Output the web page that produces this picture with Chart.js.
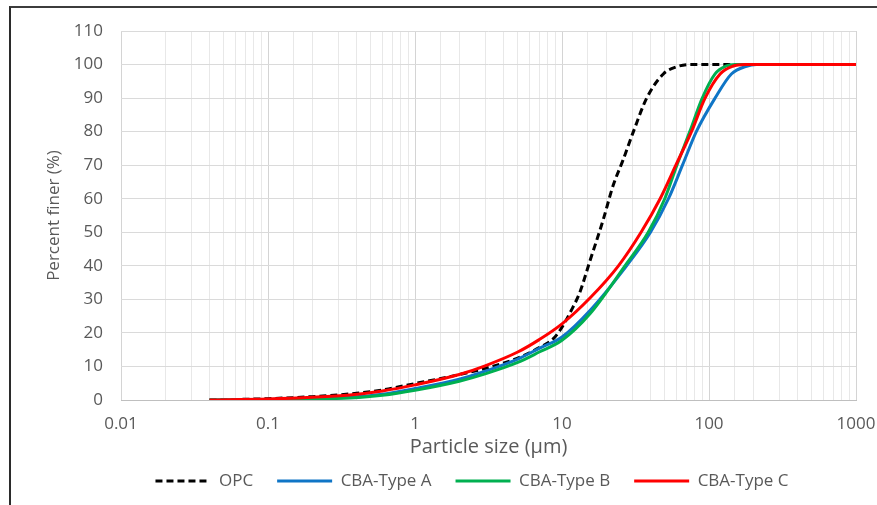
<!DOCTYPE html>
<html lang="en">
<head>
<meta charset="UTF-8">
<title>Particle size distribution</title>
<script src="https://cdn.jsdelivr.net/npm/chart.js"></script>
<style>
    body { margin: 0; background: #fff; }
    .quadro { position: relative; width: 877px; height: 505px; overflow: hidden; }
    .moldura { position: absolute; left: 9px; top: 6px; right: -5px; bottom: -5px; border-left: 2px solid #2b2b2b; border-top: 2px solid #3c3c3c; }
    #grafico { position: absolute; left: 0; top: 0; }
</style>
</head>
<body>
<div class="quadro">
    <div class="moldura"></div>
    <canvas id="grafico" width="877" height="505"></canvas>
</div>
<script>
    // OPC (dashed black)
    const opcSize  = [0.04, 0.1, 0.2, 0.4, 0.6, 1, 1.5, 2, 3, 5, 7, 8.7, 10, 11.4, 13.2, 15.5, 19, 22.3, 26, 30.6, 37.7, 48.9, 60, 74, 100, 1000];
    const opcFiner = [0, 0.4, 1.0, 2.0, 3.0, 4.9, 6.4, 7.6, 9.4, 12.5, 15.6, 18.2, 21.7, 26.2, 32, 41.5, 53.5, 64, 71.5, 80, 90, 97.2, 99.3, 100, 100, 100];

    // CBA-Type A (blue)
    const typeASize  = [0.04, 0.1, 0.2, 0.36, 0.6, 1, 2, 3, 5, 7, 10, 15.5, 27.5, 40, 53, 66, 82, 110, 142, 180, 210, 1000];
    const typeAFiner = [0, 0.15, 0.4, 0.8, 1.7, 3.4, 6.2, 8.6, 12.2, 15.4, 18.8, 26.7, 40, 50, 60, 70, 80, 90, 97.2, 99.5, 100, 100];

    // CBA-Type B (green)
    const typeBSize  = [0.04, 0.1, 0.2, 0.36, 0.6, 1, 2, 3, 5, 7, 10, 15.5, 26.8, 38.6, 50, 60.5, 74, 90, 110, 130, 150, 1000];
    const typeBFiner = [0, 0.1, 0.3, 0.6, 1.4, 2.9, 5.6, 7.8, 11.2, 14.3, 17.8, 25.7, 40, 50, 60, 70, 80, 90, 97.2, 99.5, 100, 100];

    // CBA-Type C (red)
    const typeCSize  = [0.04, 0.1, 0.2, 0.36, 0.6, 1, 2, 3, 5, 7, 10, 15.5, 24.2, 34.5, 46.5, 59.5, 76, 94, 119, 145, 175, 1000];
    const typeCFiner = [0, 0.3, 0.8, 1.5, 2.7, 4.5, 7.6, 10.2, 14.3, 18, 22.7, 30.4, 40, 50, 60, 70, 80, 90, 97.2, 99.5, 100, 100];

    const xTicks = [0.01, 0.1, 1, 10, 100, 1000];

    const cinza = '#595959';
    const fonte = { family: "'Open Sans', sans-serif", size: 17 };

    function pontos(sizes, finer) {
        return sizes.map((s, i) => ({ x: s, y: finer[i] }));
    }

    function ehDecada(v) {
        return xTicks.some(t => Math.abs(Math.log10(v) - Math.log10(t)) < 1e-6);
    }

    // move a legenda para a posicao da figura original
    const posLegenda = {
        id: 'posLegenda',
        afterLayout(chart) {
            const lg = chart.legend;
            const dx = 472 - (lg.left + lg.right) / 2;
            lg.left += dx;
            lg.right += dx;
            lg.top = 481 - 24 - 8.5;
            lg.bottom = lg.top + 70;
        }
    };

    const data = {
        datasets: [
            {
                label: 'OPC',
                data: pontos(opcSize, opcFiner),
                borderColor: '#000000',
                backgroundColor: '#000000',
                borderDash: [7, 4],
                borderWidth: 3,
                order: 4
            },
            {
                label: 'CBA-Type A',
                data: pontos(typeASize, typeAFiner),
                borderColor: '#0f75c6',
                backgroundColor: '#0f75c6',
                borderWidth: 3,
                order: 3
            },
            {
                label: 'CBA-Type B',
                data: pontos(typeBSize, typeBFiner),
                borderColor: '#00b050',
                backgroundColor: '#00b050',
                borderWidth: 3,
                order: 2
            },
            {
                label: 'CBA-Type C',
                data: pontos(typeCSize, typeCFiner),
                borderColor: '#ff0000',
                backgroundColor: '#ff0000',
                borderWidth: 3,
                order: 1
            }
        ]
    };

    const config = {
        type: 'line',
        data: data,
        plugins: [posLegenda],
        options: {
            responsive: false,
            animation: false,
            layout: { padding: { left: 43, right: 21, top: 31, bottom: 22 } },
            elements: {
                point: { radius: 0 },
                line: { cubicInterpolationMode: 'monotone', fill: false }
            },
            plugins: {
                tooltip: { enabled: false },
                legend: {
                    position: 'bottom',
                    maxHeight: 20,
                    labels: {
                        usePointStyle: true,
                        pointStyle: 'line',
                        pointStyleWidth: 55,
                        padding: 24,
                        color: cinza,
                        font: fonte,
                        sort: (a, b) => a.datasetIndex - b.datasetIndex,
                        generateLabels: chart => Chart.defaults.plugins.legend.labels.generateLabels(chart).map(item => {
                            const ds = chart.data.datasets[item.datasetIndex];
                            item.lineWidth = ds.borderWidth;
                            item.lineDash = ds.borderDash || [];
                            item.strokeStyle = ds.borderColor;
                            return item;
                        })
                    }
                }
            },
            scales: {
                x: {
                    type: 'logarithmic',
                    min: 0.01,
                    max: 1000,
                    grid: {
                        color: ctx => ehDecada(ctx.tick.value) ? '#d4d4d4' : '#e8e8e8',
                        drawTicks: true,
                        tickLength: 14,
                        tickColor: 'rgba(0,0,0,0)'
                    },
                    border: { color: '#bfbfbf' },
                    ticks: {
                        autoSkip: false,
                        maxRotation: 0,
                        padding: 0,
                        color: cinza,
                        font: fonte,
                        callback: v => ehDecada(v) ? String(Number(v.toPrecision(1))) : ''
                    },
                    title: {
                        display: true,
                        text: 'Particle size (µm)',
                        color: cinza,
                        font: { family: fonte.family, size: 20 },
                        padding: { top: 3, bottom: 4 }
                    },
                    afterFit: s => { s.height = 63; }
                },
                y: {
                    min: 0,
                    max: 110,
                    grid: { color: '#dadada', drawTicks: false },
                    border: { display: false },
                    ticks: { stepSize: 10, padding: 18, color: cinza, font: fonte },
                    title: {
                        display: true,
                        text: 'Percent finer (%)',
                        color: cinza,
                        font: fonte,
                        padding: { top: 1, bottom: 8 }
                    },
                    afterFit: s => { s.width = 78; }
                }
            }
        }
    };

    const grafico = new Chart(document.getElementById('grafico'), config);
</script>
</body>
</html>
